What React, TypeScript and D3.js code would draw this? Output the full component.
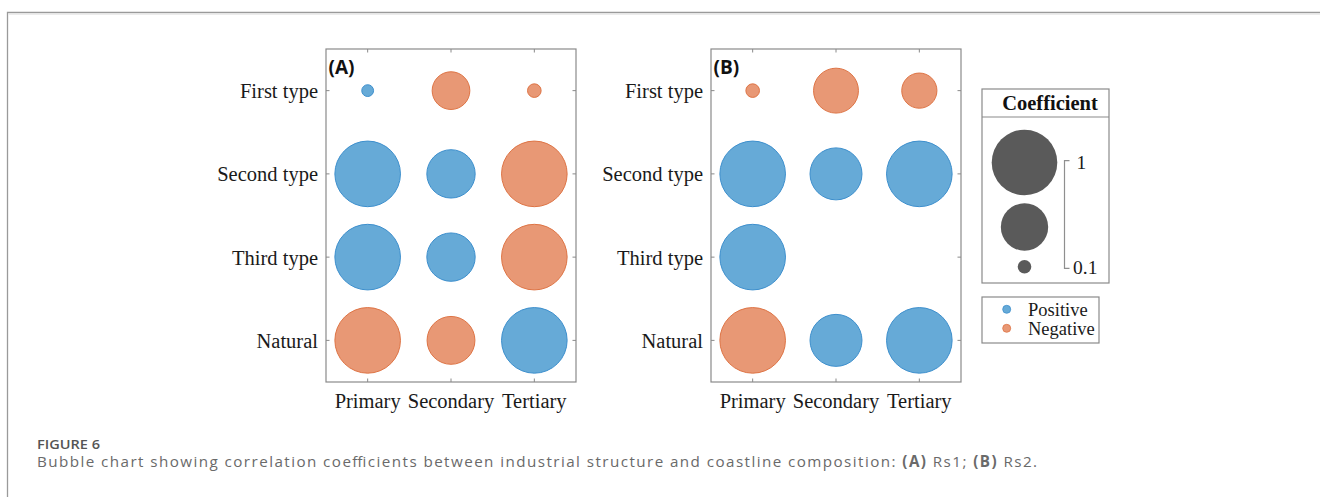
import React from "react";
import * as d3 from "d3";

const industries = ["Primary", "Secondary", "Tertiary"];
const coastTypes = ["First type", "Second type", "Third type", "Natural"];

// Signed correlation coefficients (rows = coastline types, cols = industries); null = not shown
const rs1First = [0.09, -0.37, -0.1];
const rs1Second = [1.0, 0.57, -1.0];
const rs1Third = [1.0, 0.57, -1.0];
const rs1Natural = [-1.0, -0.56, 1.0];

const rs2First = [-0.1, -0.5, -0.33];
const rs2Second = [1.0, 0.65, 1.0];
const rs2Third: (number | null)[] = [1.0, null, null];
const rs2Natural = [-1.0, 0.65, 1.0];

const panelLabels = ["(A)", "(B)"];
const sizeLegendValues = [1, 0.55, 0.1];
const sizeLegendTicks = ["1", "0.1"];
const signLabels = ["Positive", "Negative"];

const W = 1320;
const H = 497;
const POS_FILL = "#66aad7";
const POS_STROKE = "#3d8fcd";
const NEG_FILL = "#e89875";
const NEG_STROKE = "#de7445";
const AXIS = "#8a8a8a";
const SERIF = "'Liberation Serif', 'Times New Roman', serif";

const areaScale = d3.scaleLinear().domain([0.1, 1]).range([6.8 * 6.8, 32.8 * 32.8]);
const radius = (v: number) => Math.sqrt(Math.max(4, areaScale(Math.abs(v))));

type Panel = { label: string; left: number; rows: (number | null)[][] };

const panels: Panel[] = [
  { label: panelLabels[0], left: 326, rows: [rs1First, rs1Second, rs1Third, rs1Natural] },
  { label: panelLabels[1], left: 711, rows: [rs2First, rs2Second, rs2Third, rs2Natural] },
];

const PT = 49;
const PB = 382;
const PW = 250;

function BubblePanel({ p }: { p: Panel }) {
  const x = d3.scalePoint<string>().domain(industries).range([p.left, p.left + PW]).padding(0.5);
  const y = d3.scalePoint<string>().domain(coastTypes).range([PT, PB]).padding(0.5);
  const tk = 3.5;
  return (
    <g>
      <rect x={p.left} y={PT} width={PW} height={PB - PT} fill="white" stroke={AXIS} strokeWidth={1.2} />
      {industries.map((c) => (
        <g key={c}>
          <line x1={x(c)} x2={x(c)} y1={PT} y2={PT + tk} stroke={AXIS} />
          <line x1={x(c)} x2={x(c)} y1={PB} y2={PB - tk} stroke={AXIS} />
          <text x={x(c)} y={407.5} textAnchor="middle" fontFamily={SERIF} fontSize={20.5} fill="#1a1a1a">
            {c}
          </text>
        </g>
      ))}
      {coastTypes.map((r) => (
        <g key={r}>
          <line x1={p.left} x2={p.left + tk} y1={y(r)} y2={y(r)} stroke={AXIS} />
          <line x1={p.left + PW} x2={p.left + PW - tk} y1={y(r)} y2={y(r)} stroke={AXIS} />
          <text x={p.left - 8} y={(y(r) as number) + 7.4} textAnchor="end" fontFamily={SERIF} fontSize={20.5} fill="#1a1a1a">
            {r}
          </text>
        </g>
      ))}
      {p.rows.map((vals, ri) =>
        vals.map((v, ci) =>
          v === null ? null : (
            <circle
              key={`${ri}-${ci}`}
              cx={x(industries[ci])}
              cy={y(coastTypes[ri])}
              r={radius(v)}
              fill={v >= 0 ? POS_FILL : NEG_FILL}
              stroke={v >= 0 ? POS_STROKE : NEG_STROKE}
              strokeWidth={1}
            />
          )
        )
      )}
      <text x={p.left + 2.5} y={73.5} fontFamily="'Open Sans', sans-serif" fontWeight={700} fontSize={19} fill="#111">
        {p.label}
      </text>
    </g>
  );
}

export default function App() {
  const legendY = [162.5, 227, 266.7];
  return (
    <svg width={W} height={H} style={{ position: "absolute", left: 0, top: 0, display: "block" }}>
      <rect width={W} height={H} fill="white" />
      <path d={`M${W + 5},12.5 H7.5 V${H + 5}`} fill="none" stroke="#9a9a9a" strokeWidth={1.3} />
      <line x1={8.5} x2={W} y1={14} y2={14} stroke="#e6e6e6" strokeWidth={1.5} />

      {panels.map((p) => (
        <BubblePanel key={p.label} p={p} />
      ))}

      {/* size legend */}
      <rect x={982} y={89} width={127} height={194} fill="white" stroke={AXIS} strokeWidth={1.2} />
      <line x1={982} x2={1109} y1={117} y2={117} stroke={AXIS} strokeWidth={1.2} />
      <text x={1050} y={110} textAnchor="middle" fontFamily={SERIF} fontWeight={700} fontSize={20.5} fill="#111">
        Coefficient
      </text>
      {sizeLegendValues.map((v, i) => (
        <circle key={v} cx={1024.5} cy={legendY[i]} r={radius(v)} fill="#5a5a5a" />
      ))}
      <path d="M1069.5,160.7 H1064.5 V268.3 H1069.5" fill="none" stroke="#8f8f8f" strokeWidth={1.2} />
      <text x={1076.5} y={168.5} fontFamily={SERIF} fontSize={19.5} fill="#1a1a1a">
        {sizeLegendTicks[0]}
      </text>
      <text x={1073} y={273.5} fontFamily={SERIF} fontSize={19.5} fill="#1a1a1a">
        {sizeLegendTicks[1]}
      </text>

      {/* sign legend */}
      <rect x={982} y={297} width={117} height={46} fill="white" stroke={AXIS} strokeWidth={1.2} />
      {signLabels.map((s, i) => (
        <g key={s}>
          <circle cx={1006.7} cy={309.3 + i * 19} r={4} fill={i === 0 ? POS_FILL : NEG_FILL} stroke={i === 0 ? POS_STROKE : NEG_STROKE} strokeWidth={0.8} />
          <text x={1028} y={315.5 + i * 19} fontFamily={SERIF} fontSize={18.5} fill="#1a1a1a">
            {s}
          </text>
        </g>
      ))}

      {/* caption */}
      <text x={37} y={449.3} fontFamily="'Open Sans', sans-serif" fontWeight={600} fontSize={12.5} fill="#555" textLength={63} lengthAdjust="spacingAndGlyphs">
        FIGURE 6
      </text>
      <text x={37} y={466.7} fontFamily="'Open Sans', sans-serif" fontSize={15.2} fill="#6a6a6a" textLength={1000} lengthAdjust="spacing">
        Bubble chart showing correlation coefficients between industrial structure and coastline composition:{" "}
        <tspan fontWeight={700}>(A)</tspan> Rs1; <tspan fontWeight={700}>(B)</tspan> Rs2.
      </text>
    </svg>
  );
}
